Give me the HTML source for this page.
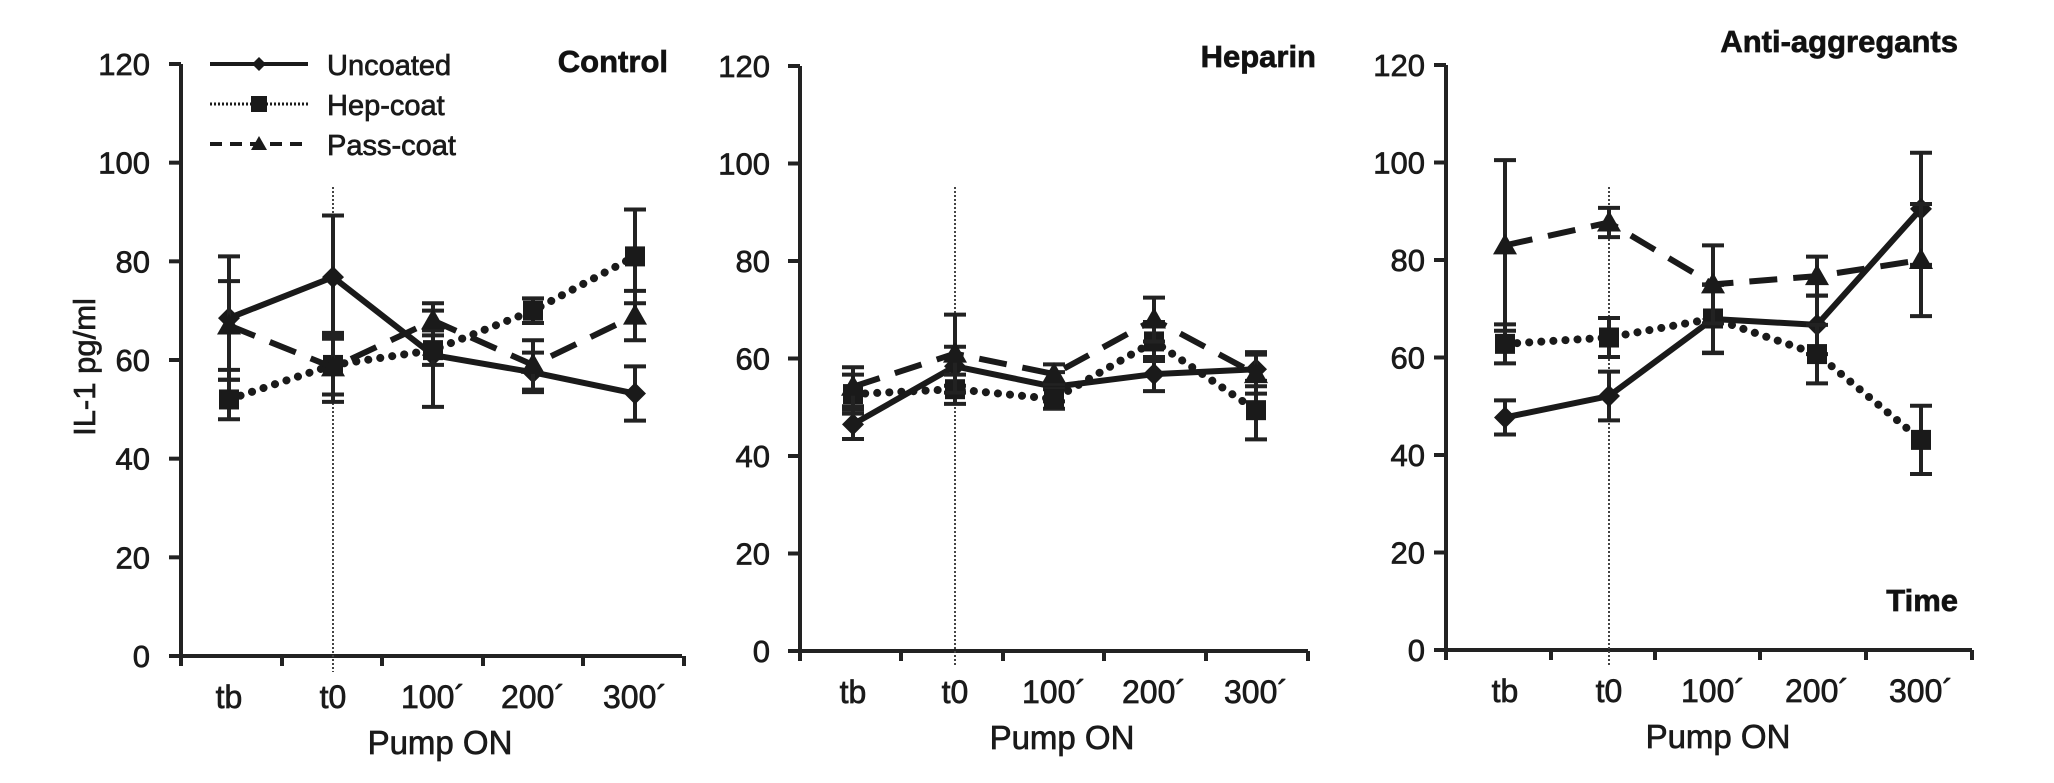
<!DOCTYPE html>
<html><head><meta charset="utf-8"><style>
html,body{margin:0;padding:0;background:#fff;}
svg{display:block;font-family:"Liberation Sans Narrow","Liberation Sans",sans-serif;}
text{stroke:#1a1a1a;stroke-width:0.7px;}
</style></head><body>
<svg id="chart" width="2054" height="783" viewBox="0 0 2054 783" xmlns="http://www.w3.org/2000/svg"></svg>
<script>
const categories = ["tb","t0","100´","200´","300´"];
const yTicks = [0,20,40,60,80,100,120];
const seriesNames = ["Uncoated","Hep-coat","Pass-coat"];
const panelTitles = ["Control","Heparin","Anti-aggregants"];
// Control
const ctrlUncoated = [68.5,76.8,61,57.5,53.2];
const ctrlUncoatedErr = [12.5,12.5,10.5,4,5.5];
const ctrlHep = [52,59,62,70,81];
const ctrlHepErr = [4,6,3,2.5,9.5];
const ctrlPass = [67,58.5,68,59,69];
const ctrlPassErr = [9,7,2,5,5];
// Heparin
const hepUncoated = [46.5,58.4,54.2,56.8,57.8];
const hepUncoatedErr = [3,4,3,3.5,3.5];
const hepHep = [52.7,53.7,51.7,63.5,49.4];
const hepHepErr = [4,3,2,4,6];
const hepPass = [54.2,61,56.8,68,56.8];
const hepPassErr = [4,8,2,4.5,4];
// Anti-aggregants
const antiUncoated = [47.7,52.1,67.9,66.7,90.5];
const antiUncoatedErr = [3.5,5,7,6,11.5];
const antiHep = [62.8,64.1,68,60.7,43.1];
const antiHepErr = [4,4,7,6,7];
const antiPass = [83,87.7,75,76.7,80];
const antiPassErr = [17.5,3,8,4,11.5];

const NS="http://www.w3.org/2000/svg";
const svg=document.getElementById('chart');
function mk(tag,attrs,parent){const e=document.createElementNS(NS,tag);for(const k in attrs)e.setAttribute(k,attrs[k]);(parent||svg).appendChild(e);return e;}

const panels=[
 {x0:181,x1:682,y0:656,y120:64,cats:[229,333,433,533,635],ticks:[181,282,382,483,583,684],lblR:150,title:{x:668,y:72},pump:440,data:[[ctrlUncoated,ctrlUncoatedErr],[ctrlHep,ctrlHepErr],[ctrlPass,ctrlPassErr]]},
 {x0:800,x1:1308,y0:651,y120:66,cats:[853,955,1054,1154,1256],ticks:[800,901,1003,1104,1206,1308],lblR:770,title:{x:1316,y:67},pump:1062,data:[[hepUncoated,hepUncoatedErr],[hepHep,hepHepErr],[hepPass,hepPassErr]]},
 {x0:1446,x1:1972,y0:650,y120:65,cats:[1505,1609,1713,1817,1921],ticks:[1446,1551,1655,1760,1866,1972],lblR:1425,title:{x:1958,y:52},pump:1718,data:[[antiUncoated,antiUncoatedErr],[antiHep,antiHepErr],[antiPass,antiPassErr]]}
];
const styles=[
 {dash:null,cap:"butt",w:6},
 {dash:"0.1 12",cap:"round",w:8},
 {dash:"28 16",cap:"butt",w:6}
];

panels.forEach((p,pi)=>{
 const g=mk('g',{});
 
 
 const sy=v=>p.y0-(v/120)*(p.y0-p.y120);
 const ya=mk('line',{x1:p.x0,y1:p.y120,x2:p.x0,y2:p.y0+10,stroke:'#222','stroke-width':4},g);
 
 const xa=mk('line',{x1:p.x0-12,y1:p.y0,x2:p.x1,y2:p.y0,stroke:'#222','stroke-width':4},g);
 
 yTicks.forEach(t=>{
  const tk=mk('line',{x1:p.x0-12,y1:sy(t),x2:p.x0,y2:sy(t),stroke:'#222','stroke-width':4},g);
  
  const tl=mk('text',{x:p.lblR,y:sy(t)+11,'text-anchor':'end','font-size':31,fill:'#1a1a1a'},g);
  tl.textContent=t;
  
 });
 p.ticks.forEach(tx=>{
  const tk=mk('line',{x1:tx,y1:p.y0,x2:tx,y2:p.y0+10,stroke:'#222','stroke-width':4},g);
  
 });
 categories.forEach((c,i)=>{
  const tl=mk('text',{x:p.cats[i],y:p.y0+52,'text-anchor':'middle','font-size':32,fill:'#1a1a1a'},g);
  tl.textContent=c;
  
 });
 const pm=mk('text',{x:p.pump,y:p.y0+98,'text-anchor':'middle','font-size':33,fill:'#1a1a1a'},g);
 pm.textContent='Pump ON';
 
 const vl=mk('line',{x1:p.cats[1],y1:187,x2:p.cats[1],y2:p.y0+16,stroke:'#444','stroke-width':2,'stroke-dasharray':'2 2'},g);
 
 const tt=mk('text',{x:p.title.x,y:p.title.y,'text-anchor':'end','font-size':31,'font-weight':'bold',fill:'#111'},g);
 tt.textContent=panelTitles[pi];
 
 p.data.forEach((sd,si)=>{
  const [vals,errs]=sd; const st=styles[si];
  const sg=mk('g',{},g);
  
  
  vals.forEach((v,i)=>{
   const x=p.cats[i],t=sy(v+errs[i]),b=sy(v-errs[i]);
   const eb=mk('path',{d:`M${x},${t}V${b}M${x-11},${t}H${x+11}M${x-11},${b}H${x+11}`,stroke:'#222','stroke-width':4,fill:'none'},sg);
   
  });
  const pts=vals.map((v,i)=>p.cats[i]+','+sy(v)).join(' ');
  const attrs={points:pts,fill:'none',stroke:'#1a1a1a','stroke-width':st.w,'stroke-linecap':st.cap,'stroke-linejoin':'round'};
  if(st.dash)attrs['stroke-dasharray']=st.dash;
  const ln=mk('polyline',attrs,sg);
  
  vals.forEach((v,i)=>{
   const x=p.cats[i],y=sy(v);let m;
   if(si===0)m=mk('path',{d:`M${x-11},${y}L${x},${y-11}L${x+11},${y}L${x},${y+11}Z`,fill:'#1a1a1a'},sg);
   else if(si===1)m=mk('rect',{x:x-10,y:y-10,width:20,height:20,fill:'#1a1a1a'},sg);
   else m=mk('path',{d:`M${x-12},${y+9}L${x},${y-12}L${x+12},${y+9}Z`,fill:'#1a1a1a'},sg);
   
  });
 });
});

const yt=mk('text',{x:0,y:0,transform:'translate(95,367) rotate(-90)','text-anchor':'middle','font-size':31,fill:'#1a1a1a'});
yt.textContent='IL-1 pg/ml';

const tm=mk('text',{x:1958,y:611,'text-anchor':'end','font-size':31,'font-weight':'bold',fill:'#111'});
tm.textContent='Time';


const lg=mk('g',{});

const legY=[64,104,144];
seriesNames.forEach((n,si)=>{
 const y=legY[si];
 const eg=mk('g',{},lg);
 
 const a={x1:210,y1:y,x2:308,y2:y,stroke:'#1a1a1a','stroke-width':si===1?3:4};
 if(si===1)a['stroke-dasharray']='2 2';
 if(si===2)a['stroke-dasharray']='12 8';
 mk('line',a,eg);
 const x=259;
 if(si===0)mk('path',{d:`M${x-7},${y}L${x},${y-7}L${x+7},${y}L${x},${y+7}Z`,fill:'#1a1a1a'},eg);
 else if(si===1)mk('rect',{x:x-8,y:y-8,width:16,height:16,fill:'#1a1a1a'},eg);
 else mk('path',{d:`M${x-8},${y+6}L${x},${y-8}L${x+8},${y+6}Z`,fill:'#1a1a1a'},eg);
 const t=mk('text',{x:327,y:y+11,'font-size':29,fill:'#1a1a1a'},eg);
 t.textContent=n;
});
</script>
</body></html>
